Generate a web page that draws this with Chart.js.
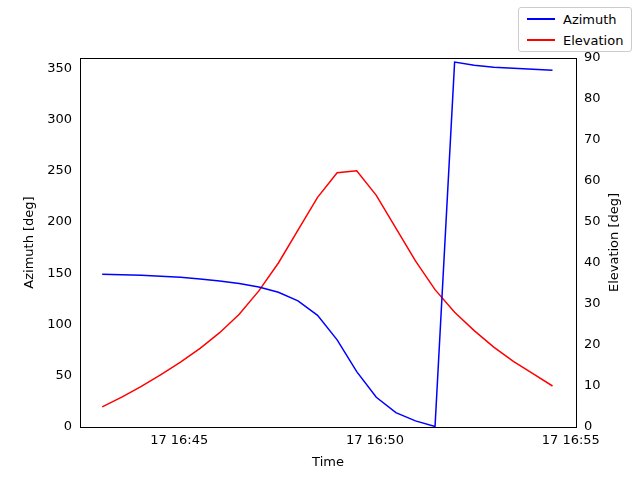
<!DOCTYPE html>
<html><head><script src="https://cdn.jsdelivr.net/npm/chart.js@4"></script>
<style>body{margin:0;background:#fff}#w{position:relative;width:640px;height:480px}
#lg{position:absolute;left:518px;top:7px;width:114px;height:45px;border:1px solid #ccc;border-radius:3px;background:#fff;font:13px "DejaVu Sans";box-sizing:border-box}
.r{position:absolute;left:8px;height:16px;display:flex;align-items:center}.r i{display:inline-block;width:28px;height:2px;margin-right:8px}</style></head>
<body><div id="w"><canvas id="c" width="640" height="480"></canvas>
<div id="lg"><div class="r" style="top:3px"><i style="background:#0000ff"></i>Azimuth</div><div class="r" style="top:24px"><i style="background:#ff0000"></i>Elevation</div></div></div>
<script>
const times=["16:43:02","16:43:32","16:44:02","16:44:32","16:45:02","16:45:32","16:46:02","16:46:32","16:47:02","16:47:32","16:48:02","16:48:32","16:49:02","16:49:32","16:50:02","16:50:32","16:51:02","16:51:32","16:52:02","16:52:32","16:53:02","16:53:32","16:54:02","16:54:32"];
const azimuth=[149,148.5,148,147,146,144.5,142.5,140,136.5,131.5,123,109,85,54,29,14,6,0.5,356,353,351,350,349,348];
const elevation=[4.9,7.3,9.9,12.8,15.8,19.2,23.0,27.5,33.2,40.0,48.0,56.0,62.0,62.5,56.5,48.5,40.5,33.5,28.0,23.5,19.5,16.0,13.0,10.0];
const sec=t=>{const [h,m,s]=t.split(':').map(Number);return (h-16)*3600+(m-40)*60+s;};
const fmt=v=>{const tot=v+16*3600+40*60;const h=Math.floor(tot/3600),m=Math.floor(tot%3600/60);return '17 '+h+':'+String(m).padStart(2,'0');};
const F={family:'DejaVu Sans',size:13};
const tk={color:'#000',font:F};
const deco={id:'deco',afterDraw(c){const x=c.ctx,a=c.chartArea;x.save();x.strokeStyle='#000';x.lineWidth=1;
x.beginPath();x.moveTo(a.left,a.top+0.5);x.lineTo(a.right,a.top+0.5);x.stroke();
x.fillStyle='#000';x.font='13px "DejaVu Sans"';x.textAlign='center';x.textBaseline='middle';
x.fillText('Time',(a.left+a.right)/2,463);
x.translate(30,(a.top+a.bottom)/2);x.rotate(-Math.PI/2);x.fillText('Azimuth [deg]',0,0);x.restore();
x.save();x.fillStyle='#000';x.font='13px "DejaVu Sans"';x.textAlign='center';x.textBaseline='middle';
x.translate(615,(a.top+a.bottom)/2);x.rotate(-Math.PI/2);x.fillText('Elevation [deg]',0,0);x.restore();}};
new Chart(document.getElementById('c'),{type:'line',plugins:[deco],data:{datasets:[
{data:times.map((t,i)=>({x:sec(t),y:azimuth[i]})),borderColor:'#0000ff',borderWidth:1.5,pointRadius:0,yAxisID:'y'},
{data:times.map((t,i)=>({x:sec(t),y:elevation[i]})),borderColor:'#ff0000',borderWidth:1.5,pointRadius:0,yAxisID:'y1'}]},
options:{responsive:false,animation:false,plugins:{legend:{display:false},tooltip:{enabled:false}},layout:{padding:{top:58}},
scales:{x:{type:'linear',min:148,max:908,afterBuildTicks:a=>{a.ticks=[300,600,900].map(v=>({value:v}));},ticks:{...tk,callback:fmt,maxRotation:0,padding:2},grid:{display:false,tickColor:'#000',tickLength:4},border:{color:'#000'},afterFit:a=>{a.height=53;}},
y:{position:'left',min:0,max:360,afterBuildTicks:a=>{a.ticks=[0,50,100,150,200,250,300,350].map(v=>({value:v}));},ticks:{...tk,padding:4},grid:{display:false,tickColor:'#000',tickLength:4},border:{color:'#000'},afterFit:a=>{a.width=80;}},
y1:{position:'right',min:0,max:90,ticks:{...tk,stepSize:10,padding:4},grid:{display:false,tickColor:'#000',tickLength:4},border:{color:'#000'},afterFit:a=>{a.width=64;}}}}});
</script></body></html>
